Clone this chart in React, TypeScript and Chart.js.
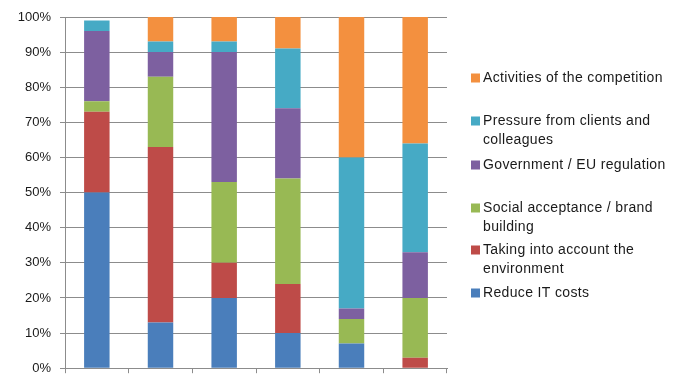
import React, { useEffect, useRef } from "react";
import { Chart, registerables } from "chart.js";

Chart.register(...registerables);

// Six respondent groups (unlabelled on the axis)
const categories = ["", "", "", "", "", ""];

// Share of answers per driver, in percent, stacked bottom to top
const reduceItCosts = [50, 13, 20, 10, 7, 0];
const environment = [23, 50, 10, 14, 0, 3];
const socialAcceptance = [3, 20, 23, 30, 7, 17];
const regulation = [20, 7, 37, 20, 3, 13];
const pressureClients = [3, 3, 3, 17, 43, 31];
const competition = [0, 7, 7, 9, 40, 36];

const seriesNames = [
  "Reduce IT costs",
  "Taking into account the environment",
  "Social acceptance / brand building",
  "Government / EU regulation",
  "Pressure from clients and colleagues",
  "Activities of the competition",
];

const yTicks = [0, 10, 20, 30, 40, 50, 60, 70, 80, 90, 100];

const COLORS = ["#4A7EBB", "#BE4B48", "#98B954", "#7D60A0", "#46AAC5", "#F3903F"];
const FONT = "'Liberation Sans', Arial, sans-serif";
const GRID = "#8c8c8c";

// Right-hand legend, listed top (last series) to bottom (first series)
const sideLegend = {
  id: "sideLegend",
  afterDraw(chart: any) {
    const ctx = chart.ctx as CanvasRenderingContext2D;
    const sets = chart.data.datasets;
    const firstLineY = [78, 121, 165, 208, 250, 293];
    const lineHeight = 19;
    const swatchX = 471;
    const textX = 483;
    const maxWidth = 192;
    ctx.save();
    ctx.font = `14px ${FONT}`;
    (ctx as any).letterSpacing = "0.35px";
    ctx.textBaseline = "middle";
    ctx.textAlign = "left";
    const order = sets.map((_: any, i: number) => i).reverse();
    order.forEach((dsIndex: number, slot: number) => {
      const ds = sets[dsIndex];
      const words = String(ds.label).split(" ");
      const lines: string[] = [];
      let cur = "";
      for (const w of words) {
        const test = cur ? cur + " " + w : w;
        if (cur && ctx.measureText(test).width > maxWidth) {
          lines.push(cur);
          cur = w;
        } else {
          cur = test;
        }
      }
      if (cur) lines.push(cur);
      const y0 = firstLineY[slot];
      ctx.fillStyle = ds.backgroundColor;
      ctx.fillRect(swatchX, y0 - 4.5, 9, 9);
      ctx.fillStyle = "#1a1a1a";
      lines.forEach((ln, k) => ctx.fillText(ln, textX, y0 + k * lineHeight));
    });
    ctx.restore();
  },
};

export default function App() {
  const canvasRef = useRef<HTMLCanvasElement | null>(null);

  useEffect(() => {
    const canvas = canvasRef.current;
    if (!canvas) return;
    const values = [
      reduceItCosts,
      environment,
      socialAcceptance,
      regulation,
      pressureClients,
      competition,
    ];
    const chart = new Chart(canvas, {
      type: "bar",
      data: {
        labels: categories,
        datasets: values.map((data, i) => ({
          label: seriesNames[i],
          data,
          backgroundColor: COLORS[i],
          borderWidth: 0,
          categoryPercentage: 1,
          barPercentage: 0.4,
        })),
      },
      options: {
        responsive: false,
        animation: false,
        layout: { padding: { top: 17, right: 230, left: 0, bottom: 0 } },
        plugins: {
          legend: { display: false },
          tooltip: { enabled: false },
        },
        scales: {
          x: {
            stacked: true,
            offset: true,
            grid: {
              offset: true,
              drawOnChartArea: false,
              drawTicks: true,
              tickLength: 5,
              color: GRID,
            },
            border: { color: GRID },
            ticks: { display: false },
            afterFit(scale: any) {
              scale.height = 7;
            },
          },
          y: {
            stacked: true,
            min: 0,
            max: 100,
            afterBuildTicks(scale: any) {
              scale.ticks = yTicks.map((v) => ({ value: v }));
            },
            grid: { color: GRID, tickLength: 5 },
            border: { color: GRID },
            ticks: {
              padding: 9,
              color: "#1a1a1a",
              font: { family: FONT, size: 13 },
              callback: (v: any) => `${v}%`,
            },
            afterFit(scale: any) {
              scale.width = 65;
            },
          },
        },
      },
      plugins: [sideLegend],
    });
    return () => chart.destroy();
  }, []);

  return (
    <div style={{ position: "fixed", left: 0, top: 0, width: 677, height: 385, background: "#fff" }}>
      <canvas ref={canvasRef} width={677} height={385} style={{ width: 677, height: 385 }} />
    </div>
  );
}
